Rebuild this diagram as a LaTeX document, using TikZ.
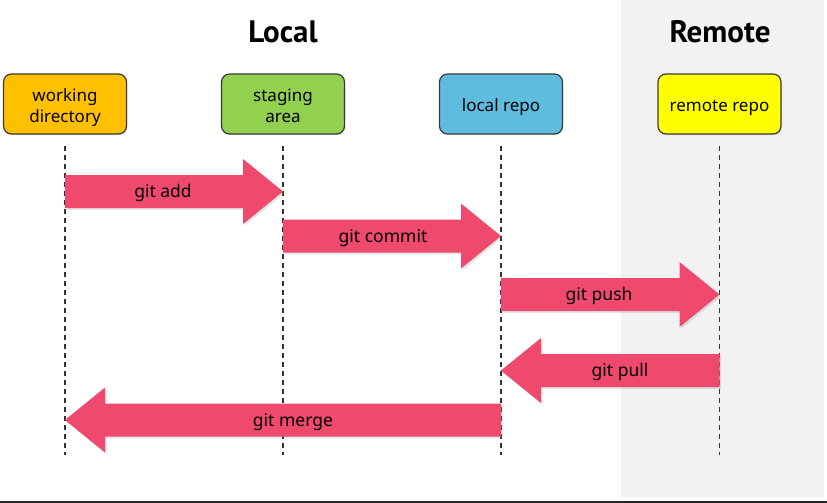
\documentclass[tikz,border=0pt]{standalone}
\usepackage{fontspec}
\setmainfont{Noto Sans}
\newfontfamily\titlefont{PT Sans}[BoldFont={* Bold}]
\usetikzlibrary{calc,shadows}

\definecolor{wdfill}{HTML}{FFC000}
\definecolor{safill}{HTML}{92D050}
\definecolor{lrfill}{HTML}{5EBCDE}
\definecolor{rrfill}{HTML}{FFFF00}
\definecolor{boxline}{HTML}{3A3A3A}
\definecolor{arrowpink}{HTML}{EF4A6E}
\definecolor{remotebg}{HTML}{F2F2F2}
\definecolor{lifeline}{HTML}{333333}

% centred lines of box text, set a little below the box centre
\newcommand\boxlines[1]{\raisebox{0pt}[\dimexpr\height+7.5pt\relax]{\begin{tabular}{@{}c@{}}#1\end{tabular}}}

\tikzset{
  area/.style={font=\titlefont\bfseries\fontsize{31}{33}\selectfont, text=black},
  repobox/.style={draw=boxline, line width=1.2pt, rounded corners=8pt,
    minimum width=123pt, minimum height=60pt, inner sep=0pt,
    font=\fontsize{17}{21}\selectfont,
    drop shadow={opacity=0.25, shadow xshift=0.8pt, shadow yshift=-1.2pt}},
  lifelinestyle/.style={draw=lifeline, line width=1.4pt, dash pattern=on 5.5pt off 3.5pt},
  arrowbody/.style={fill=arrowpink,
    drop shadow={opacity=0.22, shadow xshift=1.5pt, shadow yshift=-1.8pt}},
  arrowlabel/.style={font=\fontsize{17.5}{21}\selectfont, text=black, inner sep=0pt}
}

% fat block arrow from tail coordinate #1 to tip coordinate #2; #3 = +1 (rightwards) or -1 (leftwards)
\newcommand\fatarrow[3]{%
  \path[arrowbody] let \p1=(#1), \p2=(#2) in
    (\x1,{\y2+16.5pt}) -- ({\x2-(#3)*40pt},{\y2+16.5pt}) -- ({\x2-(#3)*40pt},{\y2+32.5pt})
    -- (\x2,\y2) -- ({\x2-(#3)*40pt},{\y2-32.5pt}) -- ({\x2-(#3)*40pt},{\y2-16.5pt})
    -- (\x1,{\y2-16.5pt}) -- cycle;%
}

\begin{document}
\begin{tikzpicture}[x=1pt,y=-1pt]
  \useasboundingbox (0,0) rectangle (827,503);

  % remote side background
  \fill[remotebg] (620.5,0) rectangle (824,497);
  % bottom frame line
  \draw[line width=1.6pt, draw=black!85] (0,502) -- (827,502);

  % section titles
  \node[area] (localtitle) at (283,32) {Local};
  \node[area] (remotetitle) at (720,32) {Remote};

  % repository boxes
  \node[repobox, fill=wdfill] (wd) at (65,104) {\boxlines{working\\directory}};
  \node[repobox, fill=safill] (sa) at (283,104) {\boxlines{staging\\area}};
  \node[repobox, fill=lrfill] (lr) at (501,104) {\boxlines{local repo}};
  \node[repobox, fill=rrfill] (rr) at (719.5,104) {\boxlines{remote repo}};

  % lifelines
  \foreach \n in {wd,sa,lr,rr} {
    \coordinate (\n top) at ($(\n.south)+(0,11)$);
    \coordinate (\n bot) at (\n.south |- 0,455);
    \draw[lifelinestyle] (\n top) -- (\n bot);
  }

  % arrow end points on the lifelines
  \coordinate (addS) at (wd |- 0,191.5);   \coordinate (addE) at (sa |- 0,191.5);
  \coordinate (comS) at (sa |- 0,236);     \coordinate (comE) at (lr |- 0,236);
  \coordinate (pushS) at (lr |- 0,294.5);  \coordinate (pushE) at (rr |- 0,294.5);
  \coordinate (pullS) at (rr |- 0,370.5);  \coordinate (pullE) at (lr |- 0,370.5);
  \coordinate (mrgS) at (lr |- 0,420);     \coordinate (mrgE) at (wd |- 0,420);

  \fatarrow{addS}{addE}{1}
  \fatarrow{comS}{comE}{1}
  \fatarrow{pushS}{pushE}{1}
  \fatarrow{pullS}{pullE}{-1}
  \fatarrow{mrgS}{mrgE}{-1}

  % arrow labels
  \node[arrowlabel] (addlbl) at (163,193) {git add};
  \node[arrowlabel] (comlbl) at (383,238) {git commit};
  \node[arrowlabel] (pushlbl) at (599,296) {git push};
  \node[arrowlabel] (pulllbl) at (620,372) {git pull};
  \node[arrowlabel] (mrglbl) at (293,422) {git merge};
\end{tikzpicture}
\end{document}
